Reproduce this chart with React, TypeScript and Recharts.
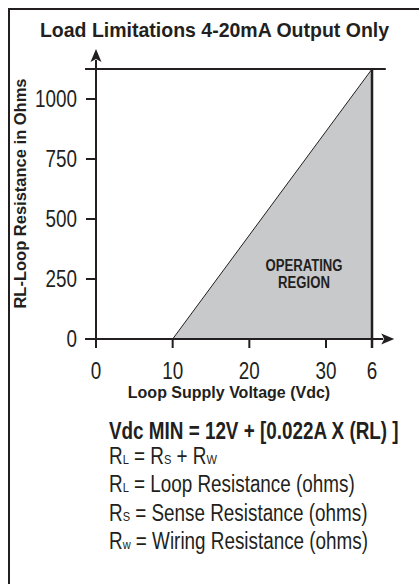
import React from "react";
import {
  ComposedChart,
  Area,
  XAxis,
  YAxis,
  ReferenceLine,
} from "recharts";

// operating region boundary: supply voltage (Vdc) vs loop resistance (ohms)
const voltage = [10, 36];
const resistance = [0, 1125];

const xTicks = [0, 10, 20, 30, 36];
const xTickLabels = ["0", "10", "20", "30", "6"];
const yTicks = [0, 250, 500, 750, 1000];

const xDomain = [0, 36];
const yDomain = [0, 1125];
// how far the drawn axis lines run past the plot (data units)
const xAxisRun = [-1.43, 38.9];
const yAxisRun = [-37.5, 1208];
const limitRun = [-1.43, 37.8];

const data = voltage.map((v, i) => ({ v, r: resistance[i] }));

const INK = "#231f20";
const SANS = "'Liberation Sans', Arial, Helvetica, sans-serif";
const SQUEEZE = 0.82; // no condensed face installed, so squeeze Liberation Sans

function ArrowLine(props: any) {
  const { x1, y1, x2, y2 } = props;
  const dx = x2 - x1;
  const dy = y2 - y1;
  const len = Math.sqrt(dx * dx + dy * dy) || 1;
  const ux = dx / len;
  const uy = dy / len;
  const head = 13;
  const half = 5.5;
  const bx = x2 - ux * head;
  const by = y2 - uy * head;
  return (
    <g>
      <line x1={x1} y1={y1} x2={bx + ux * 2} y2={by + uy * 2} stroke={INK} strokeWidth={2} />
      <polygon
        points={`${x2},${y2} ${bx - uy * half},${by + ux * half} ${bx + ux * 3},${by + uy * 3} ${bx + uy * half},${by - ux * half}`}
        fill={INK}
      />
    </g>
  );
}

function XTick(props: any) {
  const { x, y, payload } = props;
  const label = xTickLabels[xTicks.indexOf(payload.value)] ?? String(payload.value);
  return (
    <text
      transform={`translate(${x},${y}) scale(${SQUEEZE},1)`}
      textAnchor="middle"
      dy="0.71em"
      fill={INK}
      fontSize={23}
      fontFamily={SANS}
    >
      {label}
    </text>
  );
}

function YTick(props: any) {
  const { x, y, payload } = props;
  return (
    <text
      transform={`translate(${x},${y}) scale(${SQUEEZE},1)`}
      textAnchor="end"
      dy="0.355em"
      fill={INK}
      fontSize={23}
      fontFamily={SANS}
    >
      {payload.value}
    </text>
  );
}

const sub: React.CSSProperties = { fontSize: 13.5 };

const squeezed = (origin: string): React.CSSProperties => ({
  transform: `scaleX(${SQUEEZE})`,
  transformOrigin: origin,
});

export default function App() {
  return (
    <div
      style={{
        position: "relative",
        width: 419,
        height: 584,
        overflow: "hidden",
        background: "#fff",
        color: INK,
      }}
    >
      <style>{"html,body{margin:0;padding:0;overflow:hidden;background:#fff}"}</style>
      <div
        style={{
          position: "absolute",
          left: 8,
          top: 8,
          width: 411,
          height: 576,
          borderTop: `2px solid ${INK}`,
          borderLeft: `2px solid ${INK}`,
          boxSizing: "border-box",
        }}
      />
      <div
        style={{
          position: "absolute",
          left: 5,
          top: 21,
          width: 419,
          textAlign: "center",
          fontFamily: SANS,
          fontWeight: 700,
          fontSize: 19.5,
          lineHeight: "19px",
          whiteSpace: "nowrap",
        }}
      >
        Load Limitations 4-20mA Output Only
      </div>

      <div style={{ position: "absolute", left: 0, top: 0 }}>
        <ComposedChart
          width={419}
          height={584}
          data={data}
          margin={{ top: 69, right: 47, left: 0, bottom: 205 }}
          style={{ overflow: "visible" }}
        >
          <XAxis
            dataKey="v"
            type="number"
            domain={xDomain}
            ticks={xTicks}
            allowDataOverflow
            height={40}
            axisLine={false}
            tickSize={9}
            tickMargin={15}
            tickLine={{ stroke: INK, strokeWidth: 2 }}
            tick={<XTick />}
            interval={0}
          />
          <YAxis
            type="number"
            domain={yDomain}
            ticks={yTicks}
            allowDataOverflow
            width={96}
            axisLine={false}
            tickSize={10}
            tickMargin={9}
            tickLine={{ stroke: INK, strokeWidth: 2 }}
            tick={<YTick />}
            interval={0}
          />
          <Area
            dataKey="r"
            type="linear"
            fill="#c8c9cb"
            fillOpacity={1}
            stroke={INK}
            strokeWidth={1}
            isAnimationActive={false}
            dot={false}
            activeDot={false}
          />
          <ReferenceLine
            segment={[
              { x: limitRun[0], y: yDomain[1] },
              { x: limitRun[1], y: yDomain[1] },
            ]}
            ifOverflow="visible"
            stroke={INK}
            strokeWidth={2}
          />
          <ReferenceLine
            segment={[
              { x: xDomain[1], y: yDomain[1] },
              { x: xDomain[1], y: yAxisRun[0] },
            ]}
            ifOverflow="visible"
            stroke={INK}
            strokeWidth={2.5}
          />
          <ReferenceLine
            segment={[
              { x: 0, y: yAxisRun[0] },
              { x: 0, y: yAxisRun[1] },
            ]}
            ifOverflow="visible"
            shape={ArrowLine}
          />
          <ReferenceLine
            segment={[
              { x: xAxisRun[0], y: 0 },
              { x: xAxisRun[1], y: 0 },
            ]}
            ifOverflow="visible"
            shape={ArrowLine}
          />
        </ComposedChart>
      </div>

      <div
        style={{
          position: "absolute",
          left: 304 - 60,
          top: 258,
          width: 120,
          textAlign: "center",
          fontFamily: SANS,
          fontWeight: 700,
          fontSize: 16,
          lineHeight: "16.5px",
          ...squeezed("center top"),
        }}
      >
        OPERATING
        <br />
        REGION
      </div>

      <div
        style={{
          position: "absolute",
          left: 229 - 150,
          top: 385,
          width: 300,
          textAlign: "center",
          fontFamily: SANS,
          fontWeight: 700,
          fontSize: 16,
          lineHeight: "16px",
          whiteSpace: "nowrap",
        }}
      >
        Loop Supply Voltage (Vdc)
      </div>

      <div
        style={{
          position: "absolute",
          left: 20 - 150,
          top: 193 - 8.5,
          width: 300,
          height: 17,
          textAlign: "center",
          fontFamily: SANS,
          fontWeight: 700,
          fontSize: 16.5,
          lineHeight: "17px",
          whiteSpace: "nowrap",
          transform: "rotate(-90deg)",
        }}
      >
        RL-Loop Resistance in Ohms
      </div>

      <div
        style={{
          position: "absolute",
          left: 109,
          top: 419,
          fontFamily: SANS,
          fontSize: 23,
          lineHeight: "24.5px",
          whiteSpace: "nowrap",
          ...squeezed("left top"),
        }}
      >
        <div style={{ fontWeight: 700 }}>Vdc MIN = 12V + [0.022A X (RL) ]</div>
        <div>
          R<span style={sub}>L</span> = R<span style={sub}>S</span> + R<span style={sub}>W</span>
        </div>
        <div>
          R<span style={sub}>L</span> = Loop Resistance (ohms)
        </div>
        <div>
          R<span style={sub}>S</span> = Sense Resistance (ohms)
        </div>
        <div>
          R<span style={sub}>w</span> = Wiring Resistance (ohms)
        </div>
      </div>
    </div>
  );
}
